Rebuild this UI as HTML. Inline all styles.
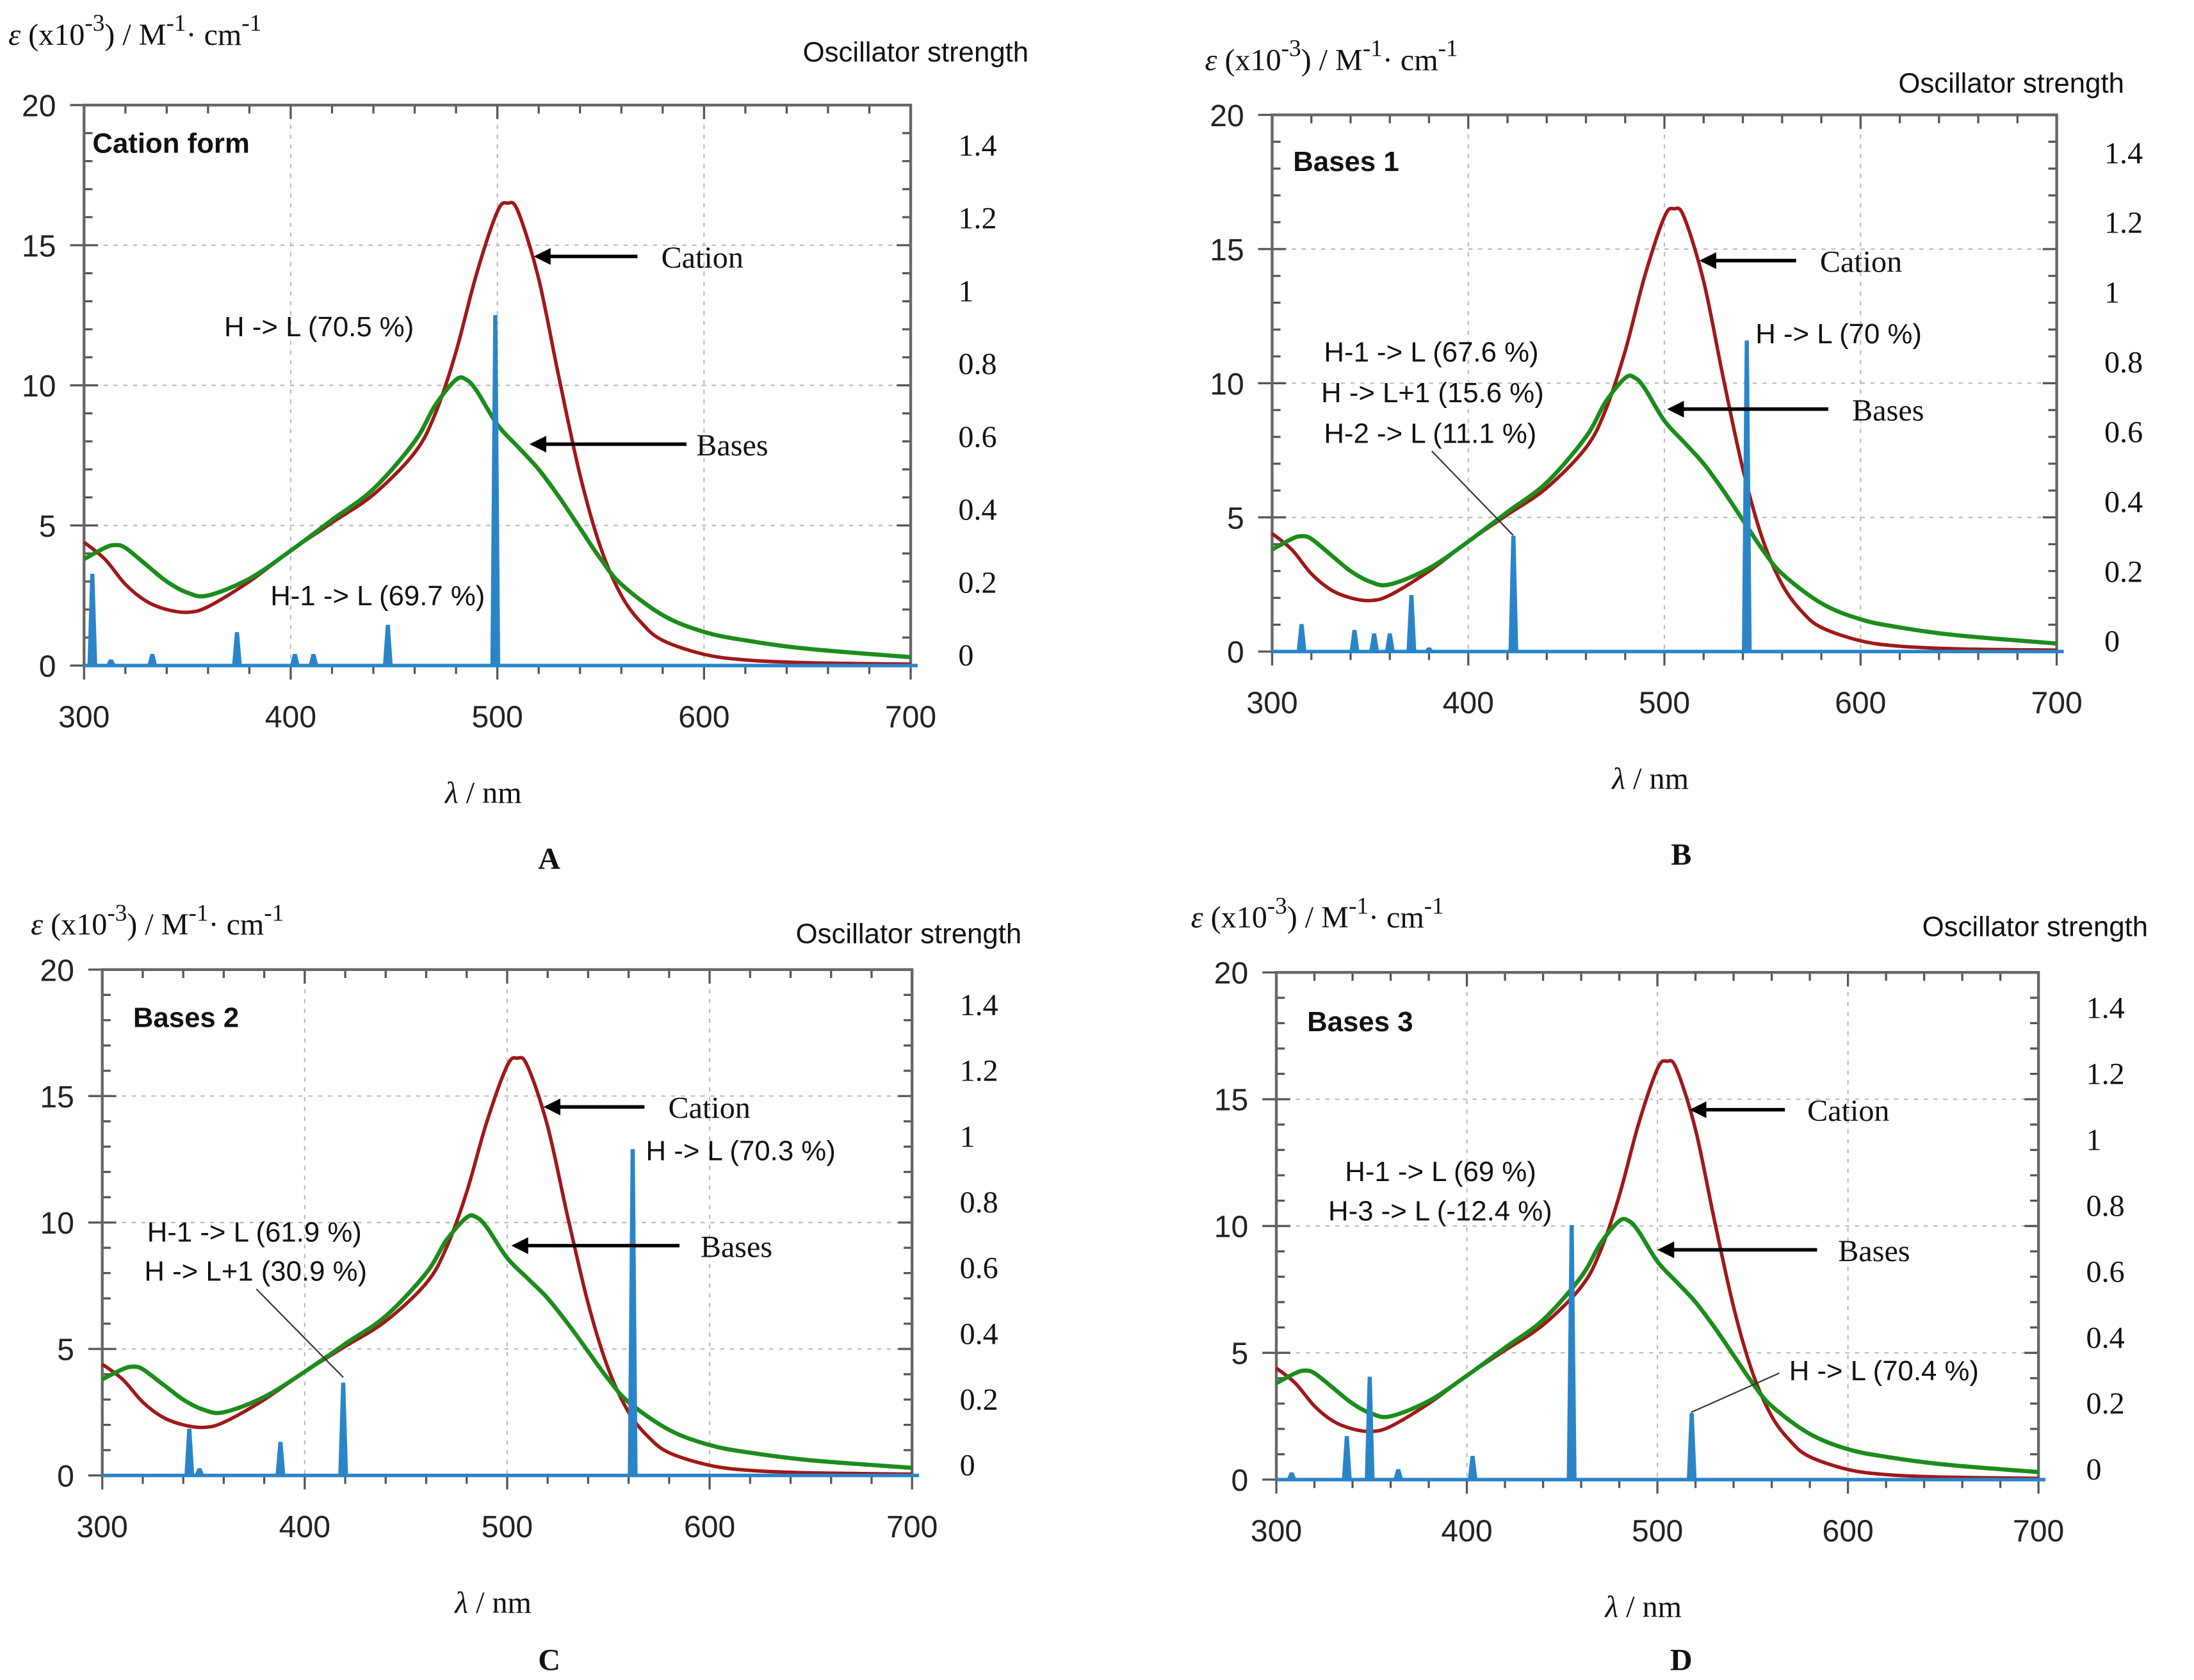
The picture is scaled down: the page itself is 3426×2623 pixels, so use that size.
<!DOCTYPE html>
<html><head><meta charset="utf-8"><style>
html,body{margin:0;padding:0;background:#fff;}
svg{display:block;}
.tk{font-family:"Liberation Sans",sans-serif;font-size:22px;fill:#222;}
.sr{font-family:"Liberation Serif",serif;font-size:22px;fill:#111;}
.an{font-family:"Liberation Sans",sans-serif;font-size:20px;fill:#111;}
</style></head><body>
<svg id="fig" width="3426" height="2623" viewBox="0 0 1566 1199" preserveAspectRatio="none" xmlns="http://www.w3.org/2000/svg">
<defs><marker id="ah" markerWidth="12" markerHeight="12" refX="10" refY="6" orient="auto" markerUnits="userSpaceOnUse"><path d="M0,0 L12,6 L0,12 Z" fill="#000"/></marker></defs>
</svg>
<script>
const cationWl=[300,310,320,330,340,350,360,380,400,420,440,460,470,480,490,500,505,510,520,530,540,550,560,570,580,600,620,650,700];
const cationEps=[4.4,3.8,2.9,2.3,2.0,1.9,2.1,3.0,4.1,5.1,6.1,7.6,9.0,11.2,14.0,16.2,16.5,16.2,13.8,10.2,6.8,4.2,2.5,1.5,0.9,0.4,0.2,0.1,0.05];
const basesWl=[300,310,315,320,330,340,350,360,380,400,420,440,460,470,480,485,490,500,510,520,530,540,550,560,580,600,620,650,700];
const basesEps=[3.8,4.2,4.3,4.2,3.6,3.0,2.6,2.5,3.1,4.1,5.2,6.3,8.0,9.3,10.2,10.2,9.8,8.6,7.8,7.0,6.0,4.9,3.8,2.9,1.8,1.2,0.9,0.6,0.3];
const sticksAWl=[304,313,333,374,402,411,447,499];
const sticksAF=[0.25,0.015,0.03,0.09,0.03,0.03,0.11,0.96];
const sticksBWl=[315,342,352,360,371,380,423,542];
const sticksBF=[0.077,0.06,0.05,0.05,0.16,0.01,0.33,0.89];
const sticksCWl=[343,348,388,419,562];
const sticksCF=[0.14,0.02,0.1,0.28,0.99];
const sticksDWl=[308,337,349,364,403,455,518];
const sticksDF=[0.02,0.13,0.31,0.03,0.07,0.77,0.2];
const xTicks=[300,400,500,600,700];
const yTicks=[0,5,10,15,20];
const fTicks=[0,0.2,0.4,0.6,0.8,1,1.2,1.4];

const NS="http://www.w3.org/2000/svg";
const svg=document.getElementById('fig');
function mk(tag,attrs,parent,txt){const e=document.createElementNS(NS,tag);for(const k in attrs)e.setAttribute(k,attrs[k]);if(txt!==undefined)e.textContent=txt;(parent||svg).appendChild(e);return e;}

const panels=[
 {id:'a',x0:60,x1:650,yt:75,yb:475,title:'Cation form',tx:66,ty:109,tsize:23,letter:'A',lx:392,ly:620,ylab:[6,32],osc:[573,44],wl:sticksAWl,f:sticksAF,
  ann:[['H -> L (70.5 %)',160,240],['H-1 -> L (69.7 %)',193,432]],cat:[455,183,383,183,472,191],bas:[490,317,380,317,497,325],lines:[]},
 {id:'b',x0:908,x1:1468,yt:82,yb:465,title:'Bases 1',tx:923,ty:122,tsize:21,letter:'B',lx:1200,ly:617,ylab:[860,50],osc:[1355,66],wl:sticksBWl,f:sticksBF,
  ann:[['H-1 -> L (67.6 %)',945,258],['H -> L+1 (15.6 %)',943,287],['H-2 -> L (11.1 %)',945,316],['H -> L (70 %)',1253,245]],cat:[1282,186,1215,186,1299,194],bas:[1305,292,1192,292,1322,300],lines:[[1022,322,1080,382]]},
 {id:'c',x0:73,x1:651,yt:692,yb:1053,title:'Bases 2',tx:95,ty:733,tsize:21,letter:'C',lx:392,ly:1192,ylab:[22,667],osc:[568,673],wl:sticksCWl,f:sticksCF,
  ann:[['H-1 -> L (61.9 %)',105,886],['H -> L+1 (30.9 %)',103,914],['H -> L (70.3 %)',461,828]],cat:[460,790,390,790,477,798],bas:[485,889,367,889,500,897],lines:[[183,920,245,983]]},
 {id:'d',x0:911,x1:1455,yt:694,yb:1056,title:'Bases 3',tx:933,ty:736,tsize:21,letter:'D',lx:1200,ly:1192,ylab:[850,662],osc:[1372,668],wl:sticksDWl,f:sticksDF,
  ann:[['H-1 -> L (69 %)',960,843],['H-3 -> L (-12.4 %)',948,871],['H -> L (70.4 %)',1277,985]],cat:[1274,792,1208,792,1290,800],bas:[1297,892,1185,892,1312,900],lines:[[1270,980,1207,1008]]}
];

function smooth(pts){
  let d='M'+pts[0][0].toFixed(1)+','+pts[0][1].toFixed(1);
  for(let i=0;i<pts.length-1;i++){
    const p0=pts[i-1]||pts[i],p1=pts[i],p2=pts[i+1],p3=pts[i+2]||p2;
    const c1=[p1[0]+(p2[0]-p0[0])/6,p1[1]+(p2[1]-p0[1])/6];
    const c2=[p2[0]-(p3[0]-p1[0])/6,p2[1]-(p3[1]-p1[1])/6];
    d+=` C${c1[0].toFixed(1)},${c1[1].toFixed(1)} ${c2[0].toFixed(1)},${c2[1].toFixed(1)} ${p2[0].toFixed(1)},${p2[1].toFixed(1)}`;
  }
  return d;
}

panels.forEach(p=>{
  const g=mk('g',{});
  
  
  const X=w=>p.x0+(w-300)/400*(p.x1-p.x0);
  const Y=e=>p.yb-e/20*(p.yb-p.yt);
  const YF=f=>Y(f*13.0)-4;
  xTicks.slice(1,-1).forEach(t=>{const l=mk('line',{x1:X(t),x2:X(t),y1:p.yt,y2:p.yb,stroke:'#bbb','stroke-dasharray':'3,4','stroke-width':1},g);});
  yTicks.slice(1,-1).forEach(t=>{const l=mk('line',{x1:p.x0,x2:p.x1,y1:Y(t),y2:Y(t),stroke:'#bbb','stroke-dasharray':'3,4','stroke-width':1},g);});
  for(let w=300;w<=700;w+=20){const L=(w%100===0)?10:6;mk('line',{x1:X(w),x2:X(w),y1:p.yb,y2:p.yb+L,stroke:'#555','stroke-width':1.5},g);mk('line',{x1:X(w),x2:X(w),y1:p.yt,y2:p.yt+L,stroke:'#555','stroke-width':1.5},g);}
  for(let e=0;e<=20;e+=1){const L=(e%5===0)?10:6;mk('line',{x1:p.x0-((e%5===0)?10:0),x2:p.x0+L,y1:Y(e),y2:Y(e),stroke:'#555','stroke-width':1.5},g);mk('line',{x1:p.x1-L,x2:p.x1,y1:Y(e),y2:Y(e),stroke:'#555','stroke-width':1.5},g);}
  const box=mk('rect',{x:p.x0,y:p.yt,width:p.x1-p.x0,height:p.yb-p.yt,fill:'none',stroke:'#666','stroke-width':2},g);
  
  xTicks.forEach(t=>{const e=mk('text',{x:X(t),y:p.yb+44,'text-anchor':'middle',class:'tk'},g,String(t));});
  yTicks.forEach(t=>{const e=mk('text',{x:p.x0-20,y:Y(t)+8,'text-anchor':'end',class:'tk'},g,String(t));});
  fTicks.forEach(t=>{const e=mk('text',{x:p.x1+34,y:YF(t)+4,class:'sr','font-size':'27'},g,String(t));});
  const path=(wl,ev)=>smooth(wl.map((w,i)=>[X(w),Y(ev[i])]));
  const c=mk('path',{d:path(cationWl,cationEps),fill:'none',stroke:'#a01818','stroke-width':2.5,'stroke-linejoin':'round'},g);
  
  const b=mk('path',{d:path(basesWl,basesEps),fill:'none',stroke:'#1c8c1c','stroke-width':3,'stroke-linejoin':'round'},g);
  
  const bl=mk('line',{x1:p.x0,x2:p.x1+5,y1:p.yb,y2:p.yb,stroke:'#2a85c8','stroke-width':2.5},g);
  
  p.wl.forEach((w,i)=>{const x=X(w),y=Y(p.f[i]*13.0);const s=mk('path',{d:`M${x-3},${p.yb} L${x-1},${y} L${x+1},${y} L${x+3},${p.yb} Z`,fill:'#2a85c8',stroke:'#2a85c8','stroke-width':1},g);
    });
  const t=mk('text',{x:p.tx,y:p.ty,class:'an','font-weight':'bold','font-size':p.tsize},g,p.title);
  const yl=mk('text',{x:p.ylab[0],y:p.ylab[1],class:'sr','font-size':'27'},g);
  yl.innerHTML='<tspan font-style="italic">ε</tspan> (x10<tspan dy="-10" font-size="17">-3</tspan><tspan dy="10">) / M</tspan><tspan dy="-10" font-size="17">-1</tspan><tspan dy="10">· cm</tspan><tspan dy="-10" font-size="17">-1</tspan>';
  const os=mk('text',{x:p.osc[0],y:p.osc[1],class:'an','font-size':'22'},g,'Oscillator strength');
  const xl=mk('text',{x:(p.x0+p.x1)/2-10,y:p.yb+98,'text-anchor':'middle',class:'sr','font-size':'27'},g);
  xl.innerHTML='<tspan font-style="italic">λ</tspan> / nm';
  const lt=mk('text',{x:p.lx,y:p.ly,'text-anchor':'middle',class:'sr','font-size':'36','font-weight':'bold'},g,p.letter);
  p.ann.forEach(a=>{const e=mk('text',{x:a[1],y:a[2],class:'an'},g,a[0]);});
  p.lines.forEach(l=>{const e=mk('line',{x1:l[0],y1:l[1],x2:l[2],y2:l[3],stroke:'#333','stroke-width':1},g);});
  [['cation',p.cat,'Cation'],['bases',p.bas,'Bases']].forEach(q=>{const v=q[1];
    const a=mk('line',{x1:v[0],y1:v[1],x2:v[2],y2:v[3],stroke:'#000','stroke-width':2.5,'marker-end':'url(#ah)'},g);
    const e=mk('text',{x:v[4],y:v[5],class:'sr','font-size':'24'},g,q[2]);});
});
</script>
</body></html>
